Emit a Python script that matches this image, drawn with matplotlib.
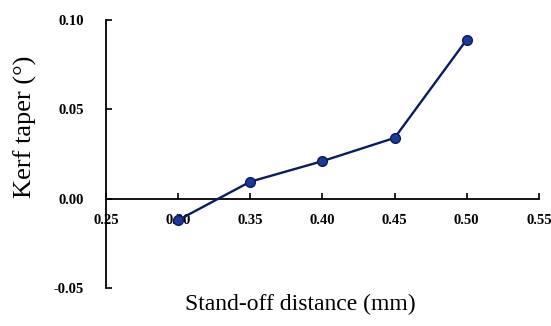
import numpy as np
import matplotlib
matplotlib.use("Agg")
import matplotlib.pyplot as plt

# stand-off distance (mm) vs kerf taper (deg)
standoff = [0.30, 0.35, 0.40, 0.45, 0.50]
taper = [-0.012, 0.0095, 0.021, 0.034, 0.089]
xticks = [0.25, 0.30, 0.35, 0.40, 0.45, 0.50, 0.55]
yticks = [-0.05, 0.00, 0.05, 0.10]

plt.rcParams["font.family"] = ["Liberation Serif", "DejaVu Serif"]

fig = plt.figure(figsize=(5.51, 3.26), dpi=100)
ax = fig.add_axes([0.1924, 0.1166, 0.7856, 0.8221])

ax.plot(standoff, taper, color="#0b1c5c", lw=1.7, marker="o", ms=7,
        mfc="#1a3a9a", mec="#0b1c5c", mew=1.0, zorder=3)

ax.set_xlim(0.25, 0.55)
ax.set_ylim(-0.05, 0.10)
ax.set_xticks(xticks)
ax.set_yticks(yticks)
ax.set_xticklabels([f"{v:.2f}" for v in xticks])
ax.set_yticklabels([f"{v:.2f}" for v in yticks])

ax.spines["top"].set_visible(False)
ax.spines["right"].set_visible(False)
ax.spines["bottom"].set_position(("data", 0))
for s in ("left", "bottom"):
    ax.spines[s].set_linewidth(1.3)
    ax.spines[s].set_color("black")

ax.tick_params(axis="both", direction="in", length=4, width=1.2,
               labelsize=10.5, colors="black")
ax.tick_params(axis="x", pad=11)
ax.tick_params(axis="y", pad=16)
for lab in ax.get_xticklabels() + ax.get_yticklabels():
    lab.set_fontweight("bold")

fig.text(0.545, 0.065, "Stand-off distance (mm)", ha="center", va="center",
         fontsize=17)
fig.text(0.046, 0.61, "Kerf taper (\u00b0)", ha="center", va="center",
         rotation=90, fontsize=19)

fig.savefig("out.png", dpi=100)
